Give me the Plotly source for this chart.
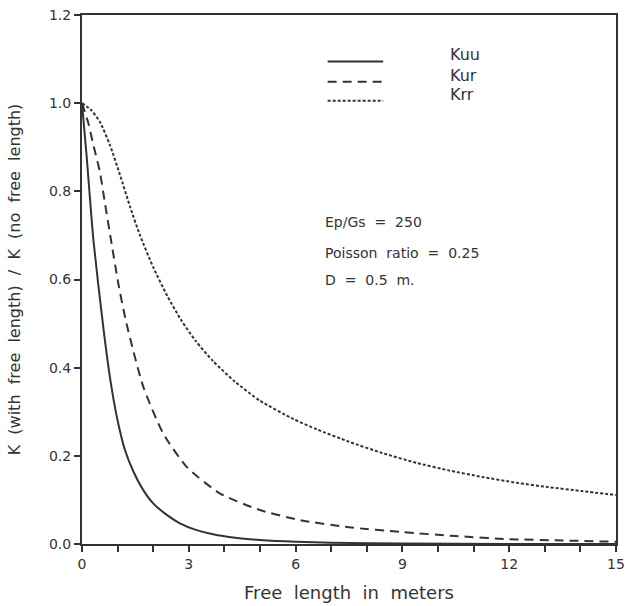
import plotly.graph_objects as go

# Data
kuu_x = [0, 0.13, 0.32, 0.6, 0.8, 1.0, 1.2, 1.44, 1.7, 2.0, 2.4, 2.75, 3.2, 3.68, 4.3, 5.0, 6.0, 7.0, 9.0, 12.0, 15.0]
kuu_y = [1.0, 0.88, 0.69, 0.49, 0.37, 0.28, 0.215, 0.165, 0.125, 0.092, 0.065, 0.047, 0.032, 0.022, 0.014, 0.009, 0.005, 0.003, 0.001, 0.0, 0.0]

kur_x = [0, 0.18, 0.32, 0.5, 0.645, 0.83, 1.02, 1.25, 1.72, 2.28, 2.94, 3.87, 5.0, 6.14, 7.5, 9.0, 10.5, 12.0, 13.5, 15.0]
kur_y = [1.0, 0.954, 0.905, 0.845, 0.773, 0.682, 0.591, 0.5, 0.357, 0.251, 0.175, 0.115, 0.077, 0.054, 0.038, 0.027, 0.018, 0.011, 0.008, 0.005]

krr_x = [0, 0.25, 0.5, 0.785, 1.065, 1.35, 1.63, 2.0, 2.4, 2.8, 3.2, 3.68, 4.3, 5.0, 5.95, 6.6, 7.5, 8.45, 9.4, 10.3, 11.25, 12.2, 13.1, 14.05, 15.0]
krr_y = [1.0, 0.985, 0.958, 0.905, 0.838, 0.765, 0.7, 0.628, 0.562, 0.506, 0.46, 0.415, 0.368, 0.325, 0.283, 0.26, 0.232, 0.206, 0.184, 0.167, 0.152, 0.139, 0.129, 0.12, 0.111]

series_names = ["Kuu", "Kur", "Krr"]
x_tick_vals = [0, 3, 6, 9, 12, 15]
y_tick_vals = [0.0, 0.2, 0.4, 0.6, 0.8, 1.0, 1.2]
param_lines = ["Ep/Gs = 250", "Poisson ratio = 0.25", "D = 0.5 m."]

ink = "#333333"
font_fam = "DejaVu Sans, Arial, sans-serif"
NB = "\u00a0"


def spaced(t):
    return t.replace(" ", NB + NB)


fig = go.Figure()
dashes = ["solid", "9px,6px", "3px,2px"]
for nm, xs, ys, d in zip(series_names, [kuu_x, kur_x, krr_x], [kuu_y, kur_y, krr_y], dashes):
    fig.add_trace(go.Scatter(x=xs, y=ys, mode="lines", name=nm,
                             line=dict(color=ink, width=2, dash=d, shape="spline", smoothing=0.6)))

# Manual legend (line samples + labels) in paper coordinates
leg_y = [0.912, 0.874, 0.838]
txt_y = [0.926, 0.886, 0.850]
for i, nm in enumerate(series_names):
    fig.add_shape(type="line", xref="paper", yref="paper",
                  x0=0.46, x1=0.564, y0=leg_y[i], y1=leg_y[i],
                  line=dict(color=ink, width=2, dash=dashes[i]))
    fig.add_annotation(xref="paper", yref="paper", x=0.685, y=txt_y[i],
                       text=nm, showarrow=False, xanchor="left", yanchor="middle",
                       font=dict(family=font_fam, size=16, color=ink))

param_y = [0.609, 0.551, 0.499]
for t, yy in zip(param_lines, param_y):
    fig.add_annotation(xref="paper", yref="paper", x=0.452, y=yy, text=spaced(t),
                       showarrow=False, xanchor="left", yanchor="middle",
                       font=dict(family=font_fam, size=14, color=ink))

fig.update_layout(
    width=625, height=606,
    margin=dict(l=82, r=9, t=15, b=62),
    paper_bgcolor="white", plot_bgcolor="white",
    showlegend=False,
    font=dict(family=font_fam, color=ink),
)
fig.update_xaxes(
    range=[0, 15], showgrid=False, zeroline=False, automargin=False,
    showline=True, linecolor=ink, linewidth=2, mirror=True,
    ticks="outside", ticklen=6, tickwidth=2, tickcolor=ink,
    tickvals=x_tick_vals, ticktext=[str(v) for v in x_tick_vals],
    minor=dict(dtick=1, ticks="outside", ticklen=6, tickwidth=2, tickcolor=ink),
    tickfont=dict(size=14, family=font_fam, color=ink), ticklabeloverflow="allow",
    title=dict(text=spaced("Free length in meters"), font=dict(size=18, family=font_fam, color=ink), standoff=16),
)
fig.update_yaxes(
    range=[0, 1.2], showgrid=False, zeroline=False, automargin=False,
    showline=True, linecolor=ink, linewidth=2, mirror=True,
    ticks="outside", ticklen=6, tickwidth=2, tickcolor=ink,
    tickvals=y_tick_vals, ticktext=[f"{v:.1f}" for v in y_tick_vals],
    tickfont=dict(size=14, family=font_fam, color=ink), ticklabeloverflow="allow",
    title=dict(text=spaced("K (with free length) / K (no free length)"),
               font=dict(size=16, family=font_fam, color=ink), standoff=24),
)

# remove the browser's default 8px body margin so the figure fills the window exactly
fig.write_html("out.html", config={"displayModeBar": False},
               post_script="document.body.style.margin='0';document.body.style.overflow='hidden';")
